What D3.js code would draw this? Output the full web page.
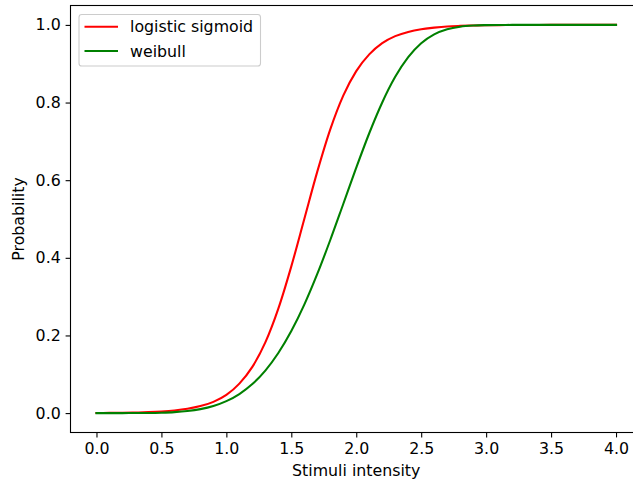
<!DOCTYPE html>
<html><head><meta charset="utf-8">
<script src="https://cdn.jsdelivr.net/npm/d3@7"></script>
<style>body{margin:0;background:#fff}svg{display:block;font-family:"DejaVu Sans",sans-serif}</style>
</head><body><svg id="c" width="633" height="483"></svg>
<script>
const xValues = [0.0,0.1,0.2,0.3,0.4,0.5,0.6,0.7,0.8,0.9,1.0,1.1,1.2,1.3,1.4,1.5,1.6,1.7,1.8,1.9,2.0,2.1,2.2,2.3,2.4,2.5,2.6,2.7,2.8,2.9,3.0,3.1,3.2,3.3,3.4,3.5,3.6,3.7,3.8,3.9,4.0];
const logisticValues = [0.0003,0.0006,0.0009,0.0015,0.0025,0.0041,0.0067,0.011,0.018,0.029,0.047,0.076,0.119,0.182,0.269,0.378,0.5,0.622,0.731,0.818,0.881,0.924,0.953,0.971,0.982,0.989,0.993,0.996,0.9975,0.9985,0.9991,0.9995,0.9997,0.9998,0.9999,1.0,1.0,1.0,1.0,1.0,1.0];
const weibullValues = [0.0,0.0,0.0,0.0001,0.0003,0.001,0.0024,0.0052,0.0102,0.0183,0.0308,0.0491,0.0748,0.1095,0.1547,0.2113,0.2794,0.3584,0.4459,0.5387,0.6321,0.7209,0.8002,0.8662,0.917,0.9527,0.9756,0.9887,0.9954,0.9984,0.9995,0.9999,1.0,1.0,1.0,1.0,1.0,1.0,1.0,1.0,1.0];
const seriesNames = ["logistic sigmoid","weibull"];
const seriesColors = ["#ff0000","#008000"];
const xTicks = [0,0.5,1,1.5,2,2.5,3,3.5,4];
const yTicks = [0,0.2,0.4,0.6,0.8,1.0];
const xLabel = "Stimuli intensity", yLabel = "Probability";

const svg = d3.select("#c");
const L = 70.5, R = 642, T = 5.5, B = 432.5;
const x = d3.scaleLinear().domain([-0.2,4.2]).range([L,R]);
const y = d3.scaleLinear().domain([-0.05,1.05]).range([B,T]);
const fs = "15.8px";

const series = [logisticValues, weibullValues];
const line = d3.line().x(d=>x(d[0])).y(d=>y(d[1])).curve(d3.curveMonotoneX);
series.forEach((vals,i)=>{
  svg.append("path").attr("d", line(xValues.map((v,j)=>[v,vals[j]])))
    .attr("fill","none").attr("stroke",seriesColors[i]).attr("stroke-width",2.08)
    .attr("stroke-linecap","square");
});

const xa = svg.append("g").attr("transform",`translate(0,${B})`)
  .call(d3.axisBottom(x).tickValues(xTicks).tickFormat(d3.format(".1f")).tickSize(4.9).tickPadding(4.9).tickSizeOuter(0));
const ya = svg.append("g").attr("transform",`translate(${L},0)`)
  .call(d3.axisLeft(y).tickValues(yTicks).tickFormat(d3.format(".1f")).tickSize(4.9).tickPadding(4.9).tickSizeOuter(0));
[xa,ya].forEach(a=>{
  a.select(".domain").remove();
  a.selectAll("line").attr("stroke","#000").attr("stroke-width",1.1);
  a.selectAll("text").attr("font-size",fs).attr("fill","#000").attr("font-family","DejaVu Sans");
});
// spines
svg.append("rect").attr("x",L).attr("y",T).attr("width",R-L).attr("height",B-T)
  .attr("fill","none").attr("stroke","#000").attr("stroke-width",1.1);

svg.append("text").attr("x",(L+R)/2).attr("y",476).attr("text-anchor","middle")
  .attr("font-size",fs).text(xLabel);
svg.append("text").attr("transform",`translate(24,${(T+B)/2}) rotate(-90)`).attr("text-anchor","middle")
  .attr("font-size",fs).text(yLabel);

// legend
const lg = svg.append("g");
lg.append("rect").attr("x",79).attr("y",14.5).attr("width",181.5).attr("height",51.5).attr("rx",2.8)
  .attr("fill","#fff").attr("fill-opacity",0.8).attr("stroke","#cccccc").attr("stroke-width",1.1);
seriesNames.forEach((n,i)=>{
  const yy = 26.7 + i*24.3;
  lg.append("line").attr("x1",84.5).attr("x2",118).attr("y1",yy).attr("y2",yy)
    .attr("stroke",seriesColors[i]).attr("stroke-width",2.08);
  lg.append("text").attr("x",130).attr("y",yy+5.5).attr("font-size",fs).text(n);
});
</script></body></html>
